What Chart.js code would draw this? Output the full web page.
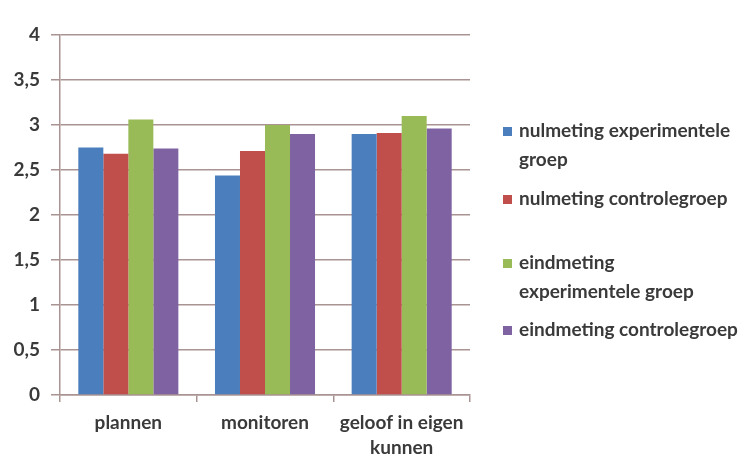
<!DOCTYPE html>
<html>
<head>
<meta charset="utf-8">
<script src="https://cdn.jsdelivr.net/npm/chart.js@4/dist/chart.umd.min.js"></script>
<style>
  html, body { margin: 0; padding: 0; background: #ffffff; }
  #wrap { width: 756px; height: 460px; position: relative; }
</style>
</head>
<body>
<div id="wrap"><canvas id="c" width="756" height="460"></canvas></div>
<script>
// Categories (multi-line labels for the x axis)
const categories = ['plannen', 'monitoren', ['geloof in eigen', 'kunnen']];

// Series names and their legend line breaks
const seriesNames = [
  'nulmeting experimentele groep',
  'nulmeting controlegroep',
  'eindmeting experimentele groep',
  'eindmeting controlegroep'
];
const legendLines = [
  ['nulmeting experimentele', 'groep'],
  ['nulmeting controlegroep'],
  ['eindmeting', 'experimentele groep'],
  ['eindmeting controlegroep']
];

// Mean scores per category
const nulmetingExperimenteel = [2.75, 2.44, 2.90];
const nulmetingControle      = [2.68, 2.71, 2.91];
const eindmetingExperimenteel = [3.06, 3.00, 3.10];
const eindmetingControle     = [2.74, 2.90, 2.96];

// Y axis ticks
const yTicks = [0, 0.5, 1, 1.5, 2, 2.5, 3, 3.5, 4];

const seriesValues = [nulmetingExperimenteel, nulmetingControle, eindmetingExperimenteel, eindmetingControle];
const seriesColors = ['#4a7ebc', '#c04e4b', '#99bb57', '#7e62a1'];

const FONT = 'Lato, "Open Sans", sans-serif';
const TEXT = '#3a3a3a';
const GRID = '#a99393';

// Legend drawn to the right of the plot, with wrapped lines
const sideLegend = {
  id: 'sideLegend',
  afterDraw(chart) {
    const ctx = chart.ctx;
    const centers = [131, 199, 263, 330];
    const lineGap = 29;
    ctx.save();
    ctx.font = 'bold 19px ' + FONT;
    ctx.textBaseline = 'middle';
    ctx.textAlign = 'left';
    chart.data.datasets.forEach((ds, i) => {
      const cy = centers[i];
      ctx.fillStyle = ds.backgroundColor;
      ctx.fillRect(503, cy - 4, 9, 9);
      ctx.fillStyle = TEXT;
      legendLines[i].forEach((line, j) => {
        ctx.fillText(line, 519, cy + j * lineGap);
      });
    });
    ctx.restore();
  }
};

new Chart(document.getElementById('c'), {
  type: 'bar',
  data: {
    labels: categories,
    datasets: seriesNames.map((name, i) => ({
      label: name,
      data: seriesValues[i],
      backgroundColor: seriesColors[i],
      borderWidth: 0,
      categoryPercentage: 0.732,
      barPercentage: 1.0
    }))
  },
  options: {
    responsive: false,
    animation: false,
    devicePixelRatio: 1,
    layout: { padding: { left: 0, top: 35, right: 286, bottom: 0 } },
    plugins: {
      legend: { display: false },
      tooltip: { enabled: false }
    },
    scales: {
      x: {
        offset: true,
        grid: {
          offset: true,
          drawOnChartArea: false,
          drawTicks: true,
          tickLength: 7,
          color: GRID,
          lineWidth: 1.5
        },
        border: { display: true, color: GRID, width: 1.5 },
        ticks: {
          color: TEXT,
          font: { family: FONT, size: 19, weight: 'bold', lineHeight: 1.32 },
          padding: 8,
          maxRotation: 0,
          autoSkip: false
        },
        afterFit(scale) { scale.height = 65; }
      },
      y: {
        min: 0,
        max: 4,
        afterBuildTicks(scale) { scale.ticks = yTicks.map(v => ({ value: v })); },
        grid: {
          color: GRID,
          lineWidth: 1.5,
          drawTicks: true,
          tickLength: 9
        },
        border: { display: true, color: GRID, width: 1.5 },
        ticks: {
          color: TEXT,
          font: { family: FONT, size: 19, weight: 'bold' },
          padding: 11,
          callback: v => String(v).replace('.', ',')
        },
        afterFit(scale) { scale.width = 60; }
      }
    }
  },
  plugins: [sideLegend]
});
</script>
</body>
</html>
